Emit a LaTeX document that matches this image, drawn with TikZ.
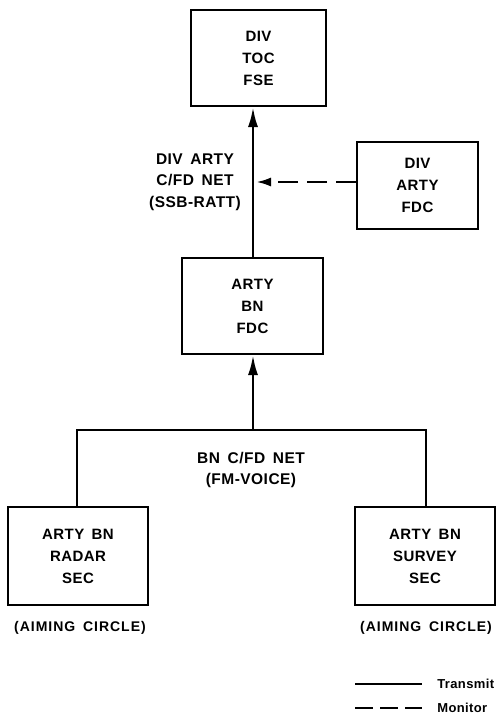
\documentclass[tikz,border=0pt]{standalone}
\usepackage{fontspec}
\setmainfont{Liberation Sans}[LetterSpace=3,WordSpace=1.6]
\usetikzlibrary{arrows.meta}
\begin{document}
\begin{tikzpicture}[x=1pt,y=-1pt,
  box/.style={draw,line width=2pt,inner sep=0pt,align=center,font=\bfseries\fontsize{15}{22}\selectfont},
  lbl/.style={align=center,font=\bfseries\fontsize{15.5}{21.5}\selectfont},
  small/.style={font=\bfseries\fontsize{14}{16}\selectfont\addfontfeatures{LetterSpace=7}},
  leg/.style={font=\bfseries\fontsize{13}{14}\selectfont,inner sep=0pt,xshift=14pt},
  conn/.style={line width=2.6pt},
  tip/.style={-{Latex[length=20pt,width=10pt]}},
  mon/.style={line width=2.6pt,dash pattern=on 20pt off 9pt}]
\useasboundingbox (0,0) rectangle (498,725);
\node[box,minimum width=135pt,minimum height=96pt] (toc) at (258.5,58) {DIV\\TOC\\FSE};
\node[box,minimum width=121pt,minimum height=87pt] (dfdc) at (417.5,185) {DIV\\ARTY\\FDC};
\node[box,minimum width=141pt,minimum height=96pt] (bfdc) at (252.5,306) {ARTY\\BN\\FDC};
\node[box,minimum width=140pt,minimum height=98pt] (radar) at (78,556) {ARTY BN\\RADAR\\SEC};
\node[box,minimum width=140pt,minimum height=98pt] (survey) at (425,556) {ARTY BN\\SURVEY\\SEC};
\coordinate (j) at (253,430);
\coordinate (m) at (256,182);
\draw[conn,tip] (bfdc.north -| 253,0) coordinate (a1) -- (a1 |- toc.south);
\draw[mon,-{Latex[length=15pt,width=9pt]}] (dfdc.west |- m) -- (m);
\draw[conn] (radar.north -| 77,0) |- (j) -| (survey.north -| 426,0);
\draw[conn,tip] (j) -- (j |- bfdc.south);
\node[lbl] (l1) at (195,182) {DIV ARTY\\C/FD NET\\(SSB-RATT)};
\node[lbl] (l2) at (251,470) {BN C/FD NET\\(FM-VOICE)};
\node[small] (a1l) at (80,628) {(AIMING CIRCLE)};
\node[small] (a2l) at (426,628) {(AIMING CIRCLE)};
\coordinate (t1) at (355,684); \coordinate (t2) at (422,684);
\coordinate (m1) at (355,708); \coordinate (m2) at (422,708);
\draw[conn] (t1) -- (t2) node[right,leg] (tl) {Transmit};
\draw[conn,dash pattern=on 18pt off 7pt] (m1) -- (m2) node[right,leg] (ml) {Monitor};
\end{tikzpicture}
\end{document}
